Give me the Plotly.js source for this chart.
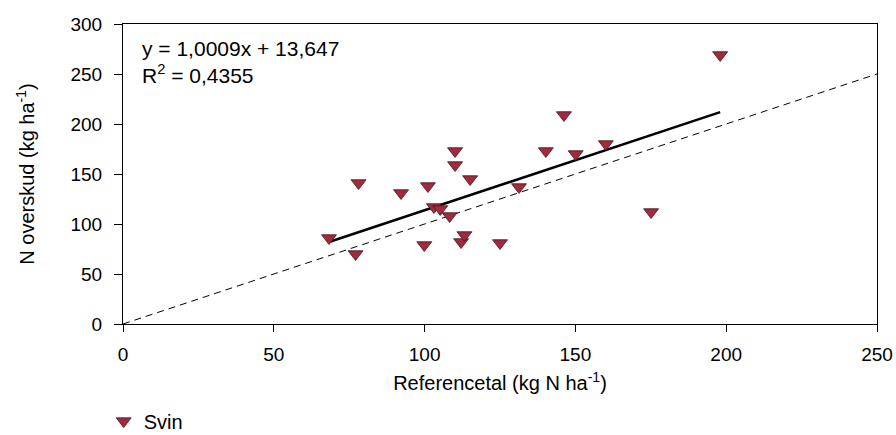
<!DOCTYPE html>
<html>
<head>
<meta charset="utf-8">
<script src="https://cdn.plot.ly/plotly-3.0.1.min.js"></script>
<style>html,body{margin:0;padding:0;background:#fff;}#chart{width:896px;height:435px;}</style>
</head>
<body>
<div id="chart"></div>
<script>
// Data
const referencetal = [68.3, 77.1, 78.1, 92.2, 99.9, 101.1, 103.1, 105.2, 108.3, 110.1, 110.1, 112.1, 113.2, 115.1, 125.0, 131.3, 140.2, 146.2, 150.1, 160.1, 175.1, 198.0];
const nOverskud   = [86, 70, 141, 131, 79, 138, 117, 115, 108, 173, 159, 82, 89, 145, 81, 137, 173, 209, 170, 180, 112, 269];
const slope = 1.0009;
const intercept = 13.647;
const oneToOneX = [0, 250];
const seriesName = 'Svin';
const eqText = 'y = 1,0009x + 13,647<br>R<sup>2</sup> = 0,4355';
const xTicks = [0, 50, 100, 150, 200, 250];
const yTicks = [0, 50, 100, 150, 200, 250, 300];

const xMin = Math.min(...referencetal), xMax = Math.max(...referencetal);
const regX = [xMin, xMax];
const regY = regX.map(v => slope * v + intercept);

const font = 'Liberation Sans, Arial, Helvetica, sans-serif';

const traces = [
  {
    x: oneToOneX, y: oneToOneX, mode: 'lines', showlegend: false, hoverinfo: 'skip',
    line: {color: '#000', width: 1, dash: '7px,5px'}
  },
  {
    x: regX, y: regY, mode: 'lines', showlegend: false, hoverinfo: 'skip',
    line: {color: '#000', width: 2.5}
  },
  {
    x: referencetal, y: nOverskud, mode: 'markers', name: seriesName,
    marker: {symbol: 'triangle-down', size: 13, color: '#A3293D', line: {color: '#3a1a1f', width: 0.8}}
  }
];

const layout = {
  width: 896, height: 435,
  margin: {l: 123.3, r: 19.3, t: 24, b: 110.7},
  paper_bgcolor: '#fff', plot_bgcolor: '#fff',
  font: {family: font, size: 19, color: '#000'},
  showlegend: true,
  legend: {
    orientation: 'h', x: -0.0256, xanchor: 'left', xref: 'paper',
    yref: 'container', y: 0.032, yanchor: 'middle',
    font: {family: font, size: 20, color: '#000'}, itemwidth: 30, bgcolor: 'rgba(0,0,0,0)'
  },
  xaxis: {
    range: [0, 250], tickvals: xTicks, ticktext: xTicks.map(String), automargin: false,
    showgrid: false, zeroline: false, showline: true, linecolor: '#000', linewidth: 1, mirror: true,
    ticks: 'outside', ticklen: 7, tickcolor: '#000', tickwidth: 1, ticklabelstandoff: 6,
    tickfont: {family: font, size: 19},
    title: {text: 'Referencetal (kg N ha<sup>-1</sup>)', font: {family: font, size: 20}, standoff: 12}
  },
  yaxis: {
    range: [0, 300], tickvals: yTicks, ticktext: yTicks.map(String), automargin: false,
    showgrid: false, zeroline: false, showline: true, linecolor: '#000', linewidth: 1, mirror: true,
    ticks: 'outside', ticklen: 8, tickcolor: '#000', tickwidth: 1, ticklabelstandoff: 8,
    tickfont: {family: font, size: 19},
    title: {text: 'N overskud (kg ha<sup>-1</sup>)', font: {family: font, size: 20}, standoff: 30}
  },
  annotations: [{
    xref: 'paper', yref: 'paper', x: 0.022, y: 0.965, xanchor: 'left', yanchor: 'top',
    text: eqText, showarrow: false, align: 'left',
    font: {family: font, size: 21, color: '#000'}
  }]
};

Plotly.newPlot('chart', traces, layout, {displayModeBar: false, staticPlot: true});
</script>
</body>
</html>
